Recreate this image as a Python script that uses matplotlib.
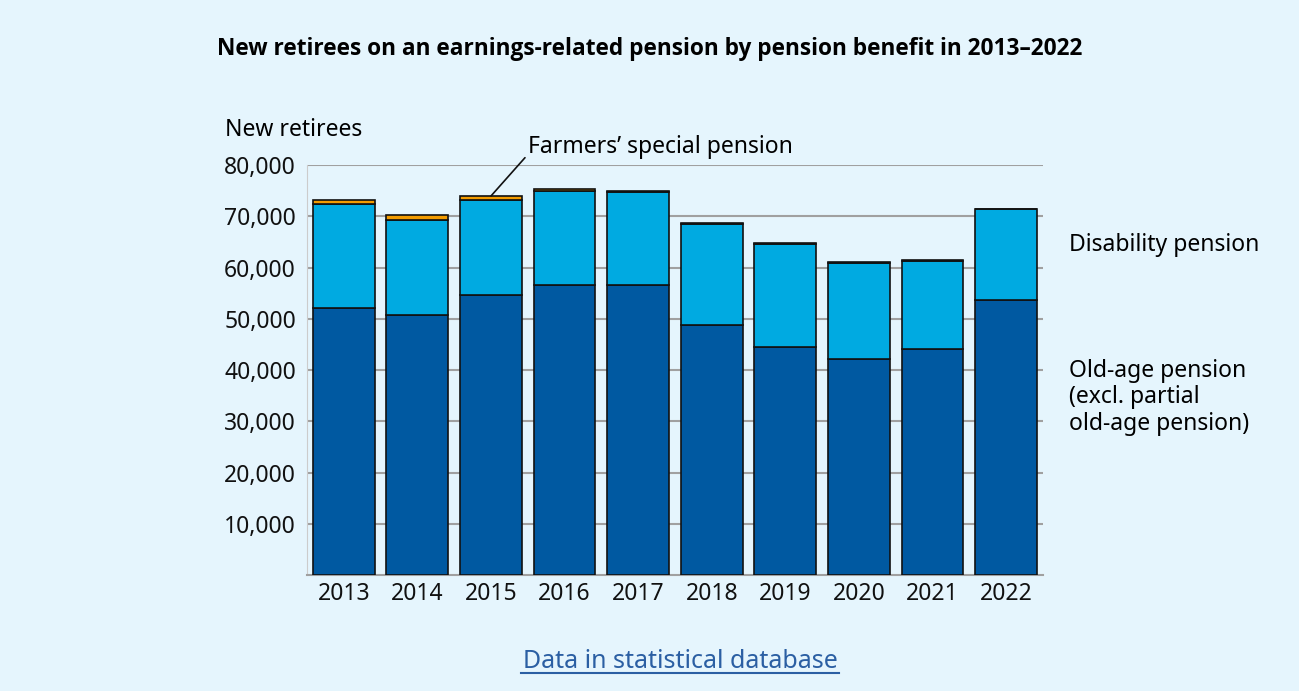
import numpy as np
import matplotlib.pyplot as plt
from matplotlib.lines import Line2D

years = ['2013', '2014', '2015', '2016', '2017', '2018', '2019', '2020', '2021', '2022']
old_age = [52200, 50750, 54700, 56650, 56550, 48800, 44450, 42100, 44050, 53600]
disability = [20250, 18650, 18550, 18350, 18150, 19750, 20200, 18850, 17200, 17800]
farmers = [800, 800, 750, 300, 300, 250, 200, 250, 200, 0]
yticks = [10000, 20000, 30000, 40000, 50000, 60000, 70000, 80000]

bg = '#e5f5fd'
c_old = '#0059a1'
c_dis = '#00aae1'
c_farm = '#f39c00'
edge = '#111111'
fs = 16.5

plt.rcParams['font.family'] = ['Noto Sans', 'DejaVu Sans']

fig = plt.figure(figsize=(12.99, 6.91), dpi=100, facecolor=bg)
ax = fig.add_axes([0.2363, 0.1679, 0.5666, 0.5929])
ax.set_facecolor(bg)

x = np.arange(len(years))
w = 0.84
bot2 = np.array(old_age)
bot3 = bot2 + np.array(disability)
ax.bar(x, old_age, w, color=c_old, edgecolor=edge, linewidth=1.2, zorder=3)
ax.bar(x, disability, w, bottom=bot2, color=c_dis, edgecolor=edge, linewidth=1.2, zorder=3)
ax.bar(x, farmers, w, bottom=bot3, color=c_farm, edgecolor=edge, linewidth=1.2, zorder=3)

ax.set_xlim(-0.5, 9.5)
ax.set_ylim(0, 80000)
ax.set_yticks(yticks, [f'{v:,}' for v in yticks])
ax.set_xticks(x, years)
ax.tick_params(axis='both', length=0, labelsize=fs, colors='#111111')
ax.tick_params(axis='y', pad=8)
ax.tick_params(axis='x', pad=5)
ax.grid(axis='y', color='#a0a0a0', linewidth=1.5, zorder=0)
for s in ['top', 'right']:
    ax.spines[s].set_visible(False)
ax.spines['left'].set_color('#cccccc')
ax.spines['bottom'].set_color('#a0a0a0')
ax.spines['bottom'].set_linewidth(1.5)

ax.text(-0.111, 1.086, 'New retirees', transform=ax.transAxes, fontsize=fs, ha='left', va='center')

ax.annotate('Farmers\u2019 special pension', xy=(2, bot3[2] + farmers[2]), xytext=(2.5, 83500),
            fontsize=fs, ha='left', va='center',
            arrowprops=dict(arrowstyle='-', color='#111111', lw=1.2, shrinkA=0, shrinkB=0,
                            relpos=(0, 0.2)),
            annotation_clip=False)

ax.text(9.85, 64500, 'Disability pension', fontsize=fs, ha='left', va='center')
ax.text(9.85, 34700, 'Old-age pension\n(excl. partial\nold-age pension)', fontsize=fs,
        ha='left', va='center', linespacing=1.13)

fig.text(0.5, 0.929, 'New retirees on an earnings-related pension by pension benefit in 2013\u20132022',
         ha='center', va='center', fontsize=16.3, fontweight='bold', family=['Open Sans', 'DejaVu Sans'])

fig.text(0.5235, 0.042, 'Data in statistical database', ha='center', va='center', fontsize=18, color='#2b5fa3')
fig.add_artist(Line2D([0.4008, 0.6459], [0.0255, 0.0255], color='#2b5fa3', linewidth=1.5))

plt.savefig('out.png', dpi=100, facecolor=bg)
